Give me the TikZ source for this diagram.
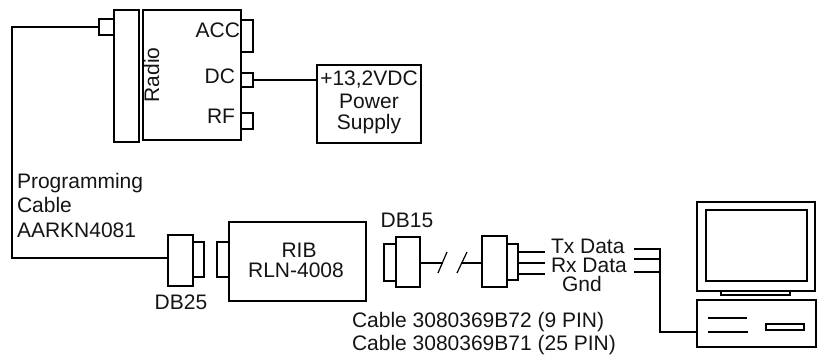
\documentclass[tikz,border=0pt]{standalone}
\usepackage{fontspec}
\setmainfont{Liberation Sans}
\tikzset{
  wire/.style={line width=1.5pt,line cap=rect,line join=miter},
  thinwire/.style={line width=1.2pt},
  lbl/.style={font=\fontsize{21}{23}\selectfont,inner sep=0pt,outer sep=0pt,text=black!92},
}
% \bx{name}{x1}{y1}{x2}{y2}: a named empty rectangle given by its corners
\newcommand{\bx}[5]{%
  \pgfmathsetmacro{\cxx}{(#2+#4)/2}\pgfmathsetmacro{\cyy}{(#3+#5)/2}%
  \pgfmathsetmacro{\wxx}{#4-#2}\pgfmathsetmacro{\hyy}{#5-#3}%
  \node[wire,draw=black,fill=white,inner sep=0pt,outer sep=0pt,minimum width=\wxx pt,minimum height=\hyy pt] (#1) at (\cxx,\cyy) {};%
}
\begin{document}
\begin{tikzpicture}[x=1pt,y=-1pt]
\useasboundingbox (0,0) rectangle (835,356);
% radio
\bx{radiobar}{114}{10}{139}{142}
\bx{radio}{143}{10}{241}{140}
\bx{progport}{99}{19}{114}{35}
\bx{dcport}{241}{73}{253}{87}
\bx{rfport}{241}{113}{253}{129}
\coordinate (accA) at (241,20);
\coordinate (accB) at (241,52);
\draw[wire] (accA) -- (253,20) -- (253,52) -- (accB);
\node[lbl,anchor=base east] (acclabel) at (240,37) {ACC};
\node[lbl,anchor=base east] (dclabel) at (235,83) {DC};
\node[lbl,anchor=base east] (rflabel) at (235,123) {RF};
\node[lbl,rotate=90,anchor=base] (radiolabel) at (159,75) {Radio};
% power supply
\bx{psu}{317}{65}{421}{143}
\node[lbl,anchor=base] (psuA) at (369,85) {+13,2VDC};
\node[lbl,anchor=base] (psuB) at (369,108) {Power};
\node[lbl,anchor=base] (psuC) at (369,129) {Supply};
\draw[wire] (dcport.east) -- (psu.west |- dcport.east);
% programming cable
\bx{dbA}{168}{235}{193}{286}
\bx{dbAplug}{193}{242}{204}{277}
\bx{ribplug}{217}{242}{229}{277}
\bx{rib}{229}{222}{366}{301}
\coordinate (cableA) at (12,27);
\coordinate (cableB) at (12,258);
\coordinate (cableC) at (168,258);
\draw[wire] (progport.west) -- (cableA) -- (cableB) -- (cableC);
\node[lbl,anchor=base west] (progA) at (17,188) {Programming};
\node[lbl,anchor=base west] (progB) at (17,212) {Cable};
\node[lbl,anchor=base west] (progC) at (17,237) {AARKN4081};
\node[lbl,anchor=base] (dbAlabel) at (181,309) {DB25};
\node[lbl,anchor=base] (ribA) at (299,257) {RIB};
\node[lbl,anchor=base] (ribB) at (296,277) {RLN-4008};
% DB15 and cable
\bx{dbBplug}{384}{244}{396}{281}
\bx{dbB}{396}{237}{420}{287}
\bx{dbC}{482}{236}{507}{287}
\bx{dbCplug}{507}{244}{518}{280}
\coordinate (breakA) at (442,263);
\coordinate (breakB) at (462,263);
\draw[wire] (420,263) -- (breakA);
\draw[wire] (breakB) -- (482,263);
\draw[thinwire] (438,273) -- (447,252);
\draw[thinwire] (457,273) -- (467,252);
\node[lbl,anchor=base] (dbBlabel) at (407,227) {DB15};
\coordinate (txA) at (520,252);
\coordinate (rxA) at (520,263);
\coordinate (gndA) at (520,274);
\coordinate (txB) at (544,252);
\coordinate (rxB) at (544,263);
\coordinate (gndB) at (544,274);
\draw[wire] (txA) -- (txB);
\draw[wire] (rxA) -- (rxB);
\draw[wire] (gndA) -- (gndB);
\node[lbl,anchor=base west] (txlabel) at (551,253) {Tx Data};
\node[lbl,anchor=base west] (rxlabel) at (551,272) {Rx Data};
\node[lbl,anchor=base west] (gndlabel) at (562,291) {Gnd};
\node[lbl,anchor=base west] (cableX) at (352,327) {Cable 3080369B72 (9 PIN)};
\node[lbl,anchor=base west] (cableY) at (352,350) {Cable 3080369B71 (25 PIN)};
% computer
\bx{monitor}{697}{202}{815}{291}
\bx{screen}{706}{210}{807}{281}
\bx{stand}{721}{291}{790}{295}
\bx{pc}{697}{300}{816}{347}
\bx{slot}{766}{324}{804}{330}
\coordinate (driveA) at (709,318);
\coordinate (driveB) at (746,318);
\coordinate (driveC) at (709,332);
\coordinate (driveD) at (747,332);
\draw[wire] (driveA) -- (driveB);
\draw[wire] (driveC) -- (driveD);
\coordinate (pcA) at (635,249);
\coordinate (pcB) at (635,259);
\coordinate (pcC) at (635,272);
\coordinate (pcbus) at (660,249);
\coordinate (pcbend) at (660,332);
\draw[wire] (pcA) -- (pcbus) -- (pcbend) -- (pc.west |- pcbend);
\draw[wire] (pcB) -- (pcbus |- pcB);
\draw[wire] (pcC) -- (pcbus |- pcC);
\end{tikzpicture}
\end{document}
